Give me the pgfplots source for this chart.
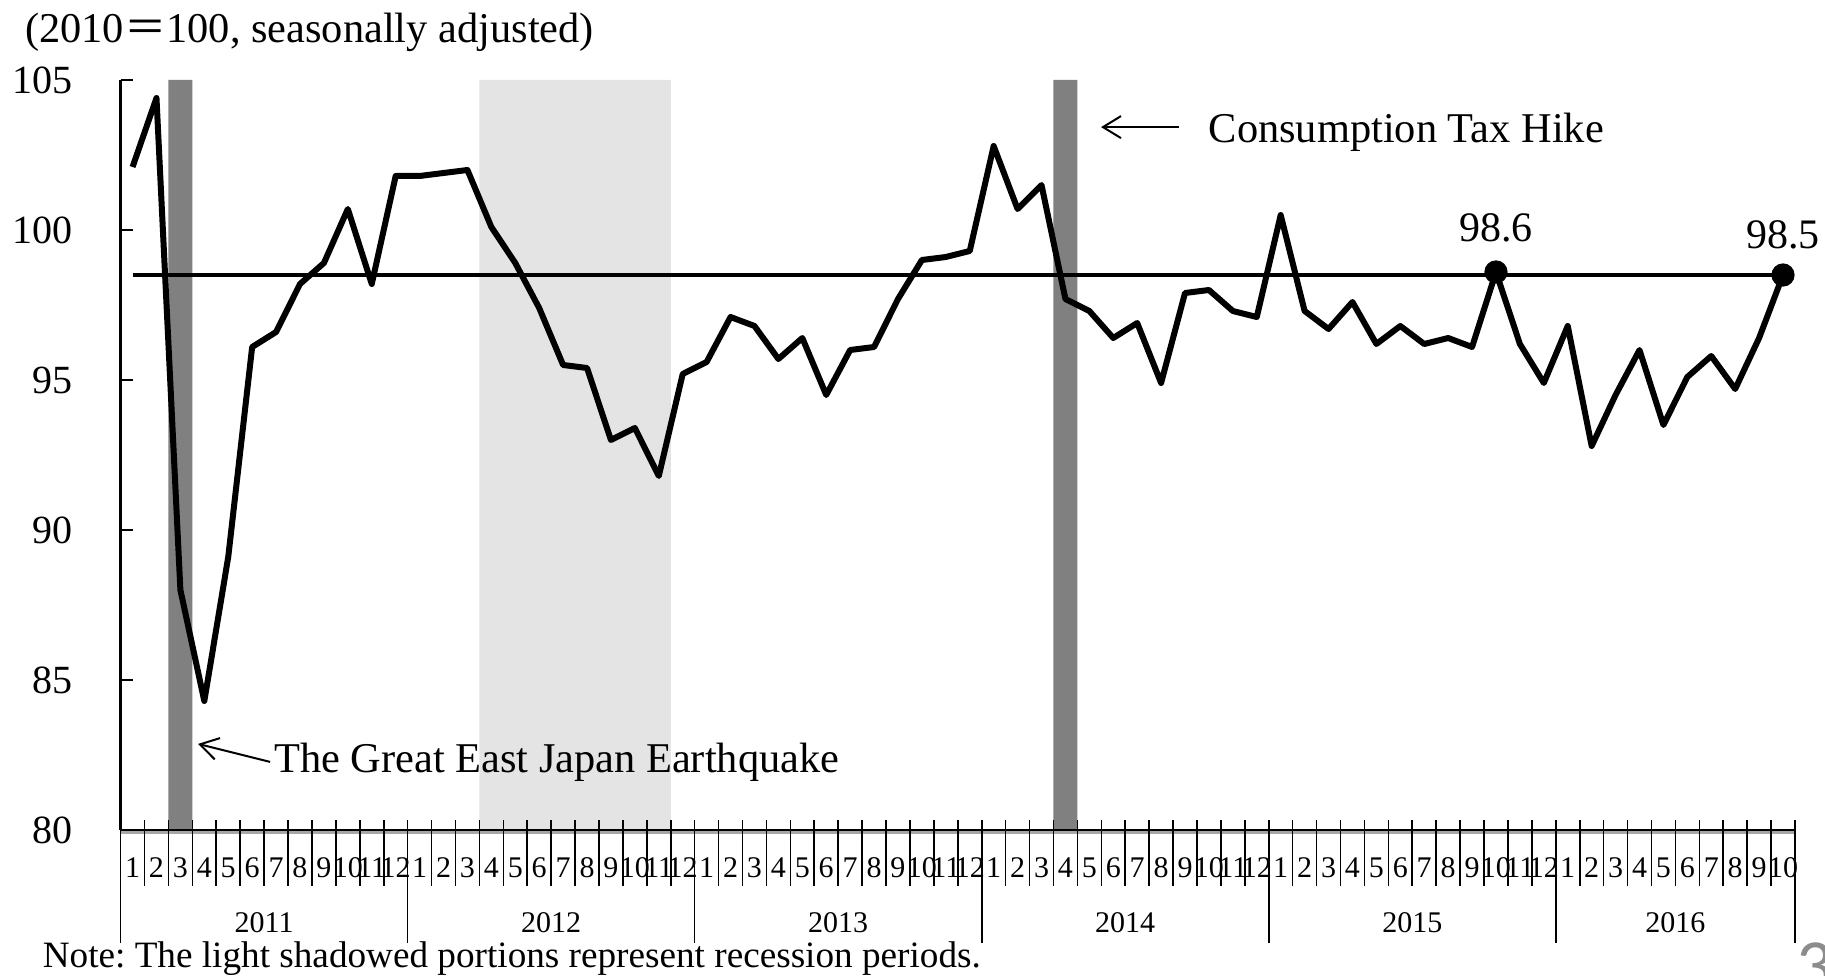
\documentclass[border=0pt]{standalone}
\usepackage{pgfplots}
\pgfplotsset{compat=1.18}
\usepackage{pgfplotstable}
\usepackage{fontspec}
\setmainfont{Liberation Serif}
\newfontfamily\cjk{Noto Sans CJK JP}
\newfontfamily\pagefont{Carlito}
\usetikzlibrary{arrows.meta}
\definecolor{darkbar}{RGB}{128,128,128}
\definecolor{lightbar}{RGB}{228,228,228}
\definecolor{pagegray}{RGB}{140,140,140}
\frenchspacing

\pgfplotstableread{
idx val
0 102.1
1 104.4
2 88.0
3 84.3
4 89.1
5 96.1
6 96.6
7 98.2
8 98.9
9 100.7
10 98.2
11 101.8
12 101.8
13 101.9
14 102.0
15 100.1
16 98.9
17 97.4
18 95.5
19 95.4
20 93.0
21 93.4
22 91.8
23 95.2
24 95.6
25 97.1
26 96.8
27 95.7
28 96.4
29 94.5
30 96.0
31 96.1
32 97.7
33 99.0
34 99.1
35 99.3
36 102.8
37 100.7
38 101.5
39 97.7
40 97.3
41 96.4
42 96.9
43 94.9
44 97.9
45 98.0
46 97.3
47 97.1
48 100.5
49 97.3
50 96.7
51 97.6
52 96.2
53 96.8
54 96.2
55 96.4
56 96.1
57 98.6
58 96.2
59 94.9
60 96.8
61 92.8
62 94.5
63 96.0
64 93.5
65 95.1
66 95.8
67 94.7
68 96.4
69 98.5
}\datatable

\begin{document}
\begin{tikzpicture}
\useasboundingbox (0,0) rectangle (456.25pt,244pt);
\begin{axis}[
  at={(30.15pt,36.5pt)}, anchor=south west,
  scale only axis, width=418.6pt, height=187.5pt,
  xmin=-0.5, xmax=69.5, ymin=80, ymax=105,
  clip=false,
  axis line style={draw=none},
  ytick={80,85,90,95,100,105},
  ytick pos=left, tick align=inside,
  major tick length=3.2pt,
  ytick style={draw=black, line width=0.6pt},
  yticklabel style={font=\fontsize{10}{12}\selectfont, xshift=-8.5pt},
  xtick={0,...,69},
  xticklabels={1,2,3,4,5,6,7,8,9,10,11,12,1,2,3,4,5,6,7,8,9,10,11,12,1,2,3,4,5,6,7,8,9,10,11,12,1,2,3,4,5,6,7,8,9,10,11,12,1,2,3,4,5,6,7,8,9,10,11,12,1,2,3,4,5,6,7,8,9,10},
  xtick style={draw=none},
  xticklabel style={font=\fontsize{7.5}{9}\selectfont, anchor=center, yshift=-9.5pt, inner sep=0pt},
  /pgf/number format/assume math mode=true,
]
% shaded periods
\addplot[fill=lightbar, draw=none] coordinates {(14.5,80) (22.5,80) (22.5,105) (14.5,105)} \closedcycle;
\addplot[fill=darkbar, draw=none] coordinates {(1.5,80) (2.5,80) (2.5,105) (1.5,105)} \closedcycle;
\addplot[fill=darkbar, draw=none] coordinates {(38.5,80) (39.5,80) (39.5,105) (38.5,105)} \closedcycle;
% reference line
\addplot[black, line width=0.85pt] coordinates {(0,98.5) (69,98.5)};
% data
\addplot[black, line width=1.5pt, line join=round] table[x=idx, y=val] {\datatable};
\addplot[only marks, mark=*, mark size=2.7pt, black] coordinates {(57,98.6) (69,98.5)};
% axes
\draw[gray!70, line width=0.8pt] ([yshift=-0.7pt]axis cs:-0.5,80) -- ([yshift=-0.7pt]axis cs:69.5,80);
\draw[black, line width=0.7pt] (axis cs:-0.5,80) -- (axis cs:69.5,80);
\draw[black, line width=0.6pt] (axis cs:-0.5,105) -- (axis cs:-0.5,80);
\pgfplotsinvokeforeach{-0.5,0.5,...,69.5}{
  \draw[black, line width=0.4pt] ([yshift=2.5pt]axis cs:#1,80) -- ([yshift=-14pt]axis cs:#1,80);
}
\pgfplotsinvokeforeach{-0.5,11.5,23.5,35.5,47.5,59.5,69.5}{
  \draw[black, line width=0.4pt] (axis cs:#1,80) -- ([yshift=-28.25pt]axis cs:#1,80);
}
% year labels
\node[font=\fontsize{7.5}{9}\selectfont, inner sep=0pt] at ([yshift=-23.25pt]axis cs:5.5,80) {2011};
\node[font=\fontsize{7.5}{9}\selectfont, inner sep=0pt] at ([yshift=-23.25pt]axis cs:17.5,80) {2012};
\node[font=\fontsize{7.5}{9}\selectfont, inner sep=0pt] at ([yshift=-23.25pt]axis cs:29.5,80) {2013};
\node[font=\fontsize{7.5}{9}\selectfont, inner sep=0pt] at ([yshift=-23.25pt]axis cs:41.5,80) {2014};
\node[font=\fontsize{7.5}{9}\selectfont, inner sep=0pt] at ([yshift=-23.25pt]axis cs:53.5,80) {2015};
\node[font=\fontsize{7.5}{9}\selectfont, inner sep=0pt] at ([yshift=-23.25pt]axis cs:64.5,80) {2016};
% value labels
\node[anchor=base, font=\fontsize{10.5}{12}\selectfont, inner sep=0pt] at (axis cs:57,99.6) {98.6};
\node[anchor=base, font=\fontsize{10.5}{12}\selectfont, inner sep=0pt] at (axis cs:69,99.4) {98.5};
% annotations
\draw[black, line width=0.5pt, -{Straight Barb[length=4.5pt,width=5.5pt]}] (axis cs:43.75,103.43) -- (axis cs:40.49,103.43);
\node[anchor=base west, font=\fontsize{10.6}{12}\selectfont, inner sep=0pt] at (axis cs:44.96,102.9) {Consumption Tax Hike};
\draw[black, line width=0.5pt, -{Straight Barb[length=4.5pt,width=5.5pt]}] (axis cs:5.75,82.27) -- (axis cs:2.74,82.87);
\node[anchor=base west, font=\fontsize{10.6}{12}\selectfont, inner sep=0pt] at (axis cs:5.89,81.93) {The Great East Japan Earthquake};
\end{axis}
\node[anchor=base west, font=\fontsize{10.6}{12}\selectfont, inner sep=0pt] at (6.1pt,233.25pt) {(2010{\cjk ＝}100, seasonally adjusted)};
\node[anchor=base west, font=\fontsize{9.3}{11}\selectfont, inner sep=0pt] at (10.5pt,2pt) {Note: The light shadowed portions represent recession periods.};
\node[anchor=base west, font=\fontsize{18}{18}\pagefont, text=pagegray, inner sep=0pt] at (449pt,-3.5pt) {3};
\end{tikzpicture}
\end{document}
